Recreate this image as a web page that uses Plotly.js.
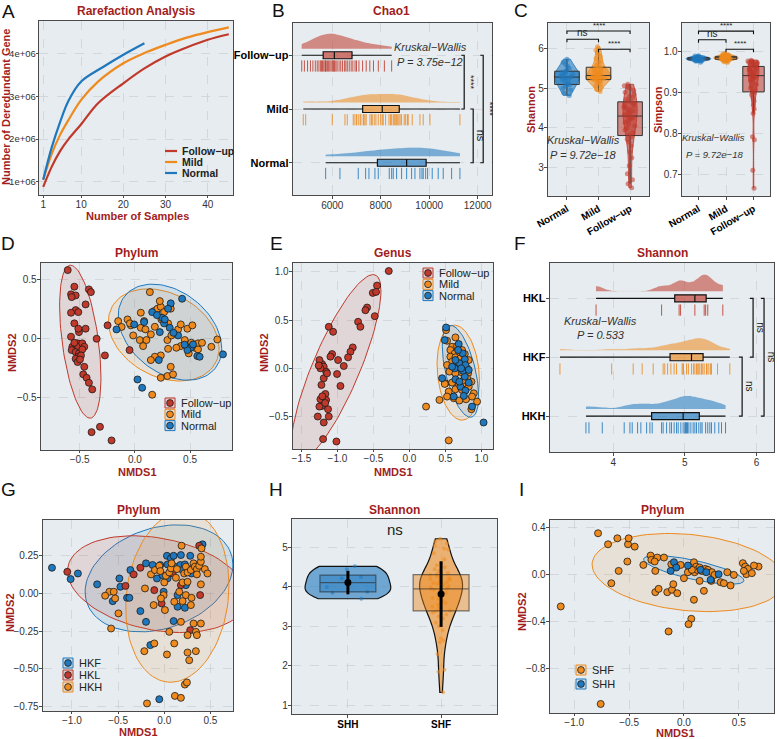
<!DOCTYPE html>
<html>
<head>
<meta charset="utf-8">
<script src="https://cdn.plot.ly/plotly-3.0.1.min.js"></script>
<style>body{margin:0;background:#fff}#plot{width:777px;height:739px}</style>
</head>
<body>
<div id="plot"></div>
<script>
// ---- colours
var RED = '#C0392B', ORG = '#EE8A1E', BLU = '#1F78BE';
var TITLE_RED = '#A11D21';

// ---- A: rarefaction
var rareFuX = [1, 3, 5, 7, 10, 14, 20, 25, 30, 35, 40, 45];
var rareFuY = [0.88e6, 1.35e6, 1.72e6, 2.0e6, 2.35e6, 2.84e6, 3.31e6, 3.66e6, 3.94e6, 4.15e6, 4.33e6, 4.46e6];
var rareMildX = [1, 3, 5, 7, 10, 14, 20, 25, 30, 35, 40, 45];
var rareMildY = [1.05e6, 1.65e6, 2.1e6, 2.45e6, 2.92e6, 3.35e6, 3.78e6, 4.02e6, 4.21e6, 4.38e6, 4.51e6, 4.62e6];
var rareNormX = [1, 3, 5, 7, 10, 15, 20, 25];
var rareNormY = [1.05e6, 1.8e6, 2.4e6, 2.9e6, 3.35e6, 3.68e6, 3.98e6, 4.25e6];
var rareTickVals = [1e6, 2e6, 3e6, 4e6];
var rareTickText = ['1e+06', '2e+06', '3e+06', '4e+06'];

// ---- B: Chao1
var chaoFu = [4740, 4850, 4980, 5100, 5200, 5300, 5380, 5450, 5520, 5560, 5600, 5650, 5700, 5720, 5750, 5800, 5850, 5900, 5950, 6000, 6040, 6070, 6100, 6150, 6200, 6280, 6350, 6420, 6500, 6560, 6620, 6700, 6780, 6850, 6940, 7000, 7100, 7250, 7400, 7550, 7700, 7900, 8150, 8450];
var chaoMild = [4804, 4903, 6000, 6524, 6619, 6866, 6936, 7000, 7072, 7150, 7183, 7278, 7300, 7348, 7400, 7555, 7625, 7650, 7732, 7800, 7897, 8000, 8062, 8103, 8200, 8338, 8400, 8449, 8516, 8557, 8600, 8654, 8700, 8751, 8800, 8860, 8969, 9027, 9100, 9134, 9300, 9617, 9753, 10029, 11266];
var chaoNorm = [5727, 6317, 7072, 7377, 7513, 7761, 7897, 8351, 8450, 8516, 8654, 8860, 9068, 9274, 9411, 9617, 9700, 9753, 9852, 9934, 10124, 10371, 10578, 10924, 11266];
var ridgeCats = ['Normal', 'Mild', 'Follow\u2212up'];

// ---- C: Shannon / Simpson
var cCats = ['Normal', 'Mild', 'Follow\u2212up'];
var shanNorm = [4.82, 4.88, 4.95, 5.0, 5.05, 5.08, 5.1, 5.14, 5.18, 5.22, 5.25, 5.27, 5.28, 5.3, 5.32, 5.35, 5.38, 5.4, 5.42, 5.45, 5.5, 5.55, 5.6, 5.65, 5.73];
var shanMild = [4.92, 4.98, 5.02, 5.06, 5.1, 5.12, 5.15, 5.17, 5.19, 5.2, 5.21, 5.22, 5.23, 5.24, 5.25, 5.26, 5.27, 5.28, 5.29, 5.3, 5.3, 5.31, 5.32, 5.33, 5.35, 5.36, 5.38, 5.4, 5.42, 5.44, 5.46, 5.48, 5.5, 5.52, 5.55, 5.58, 5.62, 5.66, 5.7, 5.75, 5.8, 5.85, 5.9, 5.96, 6.04];
var shanFu = [2.5, 2.6, 2.7, 2.85, 3.05, 3.25, 3.4, 3.55, 3.65, 3.72, 3.78, 3.82, 3.88, 3.95, 4.0, 4.05, 4.1, 4.14, 4.18, 4.22, 4.25, 4.27, 4.3, 4.33, 4.36, 4.4, 4.43, 4.47, 4.5, 4.53, 4.56, 4.6, 4.62, 4.65, 4.68, 4.72, 4.76, 4.8, 4.85, 4.9, 4.95, 5.0, 5.03, 5.06, 5.1];
var simpNorm = [0.975, 0.977, 0.978, 0.979, 0.98, 0.98, 0.981, 0.981, 0.982, 0.982, 0.983, 0.983, 0.983, 0.984, 0.984, 0.985, 0.985, 0.986, 0.986, 0.987, 0.987, 0.988, 0.989, 0.99, 0.991];
var simpMild = [0.974, 0.976, 0.977, 0.978, 0.979, 0.98, 0.98, 0.981, 0.981, 0.982, 0.982, 0.982, 0.983, 0.983, 0.983, 0.984, 0.984, 0.984, 0.985, 0.985, 0.985, 0.985, 0.986, 0.986, 0.986, 0.986, 0.987, 0.987, 0.987, 0.988, 0.988, 0.988, 0.989, 0.989, 0.99, 0.99, 0.991, 0.991, 0.992, 0.992, 0.993, 0.993, 0.994, 0.995, 0.996];
var simpFu = [0.666, 0.71, 0.785, 0.792, 0.85, 0.86, 0.87, 0.88, 0.888, 0.895, 0.9, 0.903, 0.908, 0.912, 0.916, 0.92, 0.925, 0.93, 0.933, 0.936, 0.938, 0.94, 0.942, 0.944, 0.946, 0.948, 0.95, 0.952, 0.954, 0.956, 0.958, 0.96, 0.962, 0.964, 0.966, 0.968, 0.97, 0.971, 0.972, 0.974, 0.975, 0.976, 0.977, 0.978, 0.98];

// ---- D: NMDS phylum (Follow-up / Mild / Normal)
var dFuX = [-0.608, -0.548, -0.578, -0.536, -0.572, -0.416, -0.398, -0.536, -0.512, -0.578, -0.446, -0.548, -0.506, -0.446, -0.578, -0.566, -0.542, -0.518, -0.512, -0.476, -0.458, -0.572, -0.536, -0.506, -0.476, -0.512, -0.536, -0.488, -0.518, -0.458, -0.467, -0.437, -0.416, -0.386, -0.346, -0.247, -0.271, -0.048, -0.392, -0.316, -0.211, -0.512, -0.548, -0.497];
var dFuY = [0.58, 0.44, 0.375, 0.366, 0.352, 0.417, 0.394, 0.242, 0.225, 0.22, 0.29, 0.13, 0.056, 0.085, 0.017, -0.068, -0.039, -0.039, -0.068, -0.039, -0.068, -0.096, -0.113, -0.124, -0.09, -0.152, -0.169, -0.141, -0.197, -0.237, -0.301, -0.33, -0.372, -0.428, 0.0, 0.113, -0.141, -0.096, -0.789, -0.744, -0.859, 0.085, -0.034, -0.175];
var dMildX = [-0.151, -0.066, -0.036, 0.054, 0.084, 0.175, 0.205, 0.235, 0.265, 0.325, 0.145, 0.045, 0.105, 0.075, 0.226, 0.136, -0.015, -0.045, 0.054, 0.096, 0.181, 0.241, 0.301, 0.295, 0.331, 0.392, 0.452, 0.476, 0.512, 0.542, 0.572, 0.608, 0.693, 0.747, 0.416, 0.301, 0.235, 0.181, 0.145, 0.325, 0.235, 0.295, 0.346, 0.157, 0.488, 0.376, 0.416, 0.521, -0.12, 0.572];
var dMildY = [0.149, 0.163, 0.113, 0.22, 0.149, 0.234, 0.254, 0.27, 0.225, 0.254, 0.037, -0.011, -0.011, -0.062, 0.318, 0.394, 0.028, 0.13, 0.093, 0.079, 0.101, 0.163, 0.13, -0.011, 0.028, 0.079, -0.011, 0.085, -0.034, -0.076, -0.039, -0.034, -0.068, -0.006, -0.062, -0.085, -0.141, -0.152, -0.18, -0.237, -0.33, -0.315, -0.301, -0.473, -0.124, -0.076, 0.121, 0.113, 0.1, -0.09];
var dNormX = [-0.166, -0.006, 0.084, 0.157, 0.247, 0.265, 0.325, 0.301, 0.316, 0.226, 0.392, 0.428, 0.506, 0.527, 0.566, 0.587, 0.798, 0.217, 0.024, 0.066, 0.476, 0.271, 0.35, 0.2, 0.45];
var dNormY = [0.079, 0.121, 0.141, 0.225, 0.177, 0.13, 0.299, 0.254, 0.093, 0.056, 0.028, 0.338, -0.076, -0.048, -0.146, -0.152, -0.132, -0.18, -0.344, -0.414, -0.096, 0.163, 0.05, 0.2, -0.05];

// ---- E: NMDS genus
var eFuX = [-0.287, -0.449, -0.509, -0.463, -0.481, -0.588, -0.611, -0.713, -0.681, -0.787, -0.819, -0.852, -0.912, -1.005, -0.991, -1.074, -1.12, -1.06, -1.097, -1.213, -1.19, -1.25, -1.157, -1.19, -1.236, -1.144, -1.222, -1.167, -1.236, -1.157, -1.213, -1.25, -1.13, -1.273, -1.19, -1.12, -0.958, -1.199, -1.014, -1.26, -1.21, -1.17];
var eFuY = [1.01, 0.859, 0.783, 0.793, 0.541, 0.631, 0.603, 0.483, 0.431, 0.217, 0.172, 0.114, 0.024, -0.059, 0.086, 0.148, 0.431, 0.379, 0.121, 0.045, 0.017, 0.086, -0.034, -0.103, 0.0, -0.052, -0.172, -0.266, -0.321, -0.328, -0.39, -0.397, -0.424, -0.5, -0.562, -0.5, -0.183, -0.734, -0.759, 0.03, -0.29, -0.36];
var eMildX = [0.509, 0.639, 0.523, 0.593, 0.662, 0.731, 0.569, 0.63, 0.694, 0.769, 0.569, 0.639, 0.708, 0.593, 0.662, 0.755, 0.824, 0.523, 0.616, 0.722, 0.801, 0.556, 0.639, 0.731, 0.815, 0.5, 0.593, 0.685, 0.778, 0.861, 0.546, 0.639, 0.731, 0.824, 0.894, 0.523, 0.616, 0.694, 0.787, 0.87, 0.94, 0.861, 0.491, 0.231, 0.417, 0.546, 0.801, 0.755];
var eMildY = [0.397, 0.321, 0.286, 0.224, 0.231, 0.19, 0.19, 0.155, 0.148, 0.148, 0.121, 0.114, 0.103, 0.069, 0.052, 0.069, 0.086, 0.034, 0.01, 0.017, 0.0, -0.034, -0.052, -0.045, -0.052, -0.155, -0.148, -0.172, -0.155, -0.138, -0.241, -0.217, -0.224, -0.19, -0.259, -0.293, -0.31, -0.334, -0.321, -0.293, -0.345, -0.424, -0.162, -0.397, -0.328, -0.748, -0.103, -0.121];
var eNormX = [0.509, 0.491, 0.685, 0.741, 0.769, 0.694, 0.778, 0.63, 0.769, 0.741, 0.454, 0.639, 0.824, 0.708, 0.778, 0.755, 0.87, 1.03, 0.639, 0.593, 0.694, 0.616, 0.824, 0.676, 0.72];
var eNormY = [0.424, 0.293, 0.252, 0.155, 0.093, 0.052, 0.034, 0.0, -0.086, -0.024, -0.103, -0.114, -0.148, -0.19, -0.231, -0.286, -0.397, -0.562, 0.086, 0.017, -0.138, -0.293, -0.017, 0.19, 0.0];

// ---- F: Shannon HK cohort
var fCats = ['HKH', 'HKF', 'HKL'];
var fHKL = [3.76, 4.675, 4.92, 4.94, 5.14, 5.27, 5.29, 5.32, 5.53];
var fHKF = [3.256, 3.978, 4.279, 4.404, 4.558, 4.697, 4.72, 4.759, 4.805, 4.85, 4.884, 4.962, 4.976, 4.98, 5.024, 5.05, 5.093, 5.12, 5.14, 5.163, 5.18, 5.195, 5.21, 5.233, 5.25, 5.27, 5.302, 5.31, 5.335, 5.36, 5.372, 5.456, 5.628];
var fHKH = [3.619, 3.661, 3.847, 4.153, 4.233, 4.265, 4.34, 4.386, 4.466, 4.512, 4.544, 4.675, 4.697, 4.745, 4.79, 4.814, 4.851, 4.884, 4.907, 4.944, 4.976, 5.0, 5.01, 5.024, 5.037, 5.056, 5.084, 5.116, 5.14, 5.163, 5.195, 5.223, 5.241, 5.29, 5.32, 5.349, 5.372, 5.418, 5.474, 5.512, 5.568];

// ---- G: NMDS phylum HK
var gHKFX = [-1.216, -1.014, -0.935, -0.727, -0.486, -0.475, -0.558, -0.403, -0.378, -0.367, -0.259, -0.198, -0.198, -0.126, -0.079, -0.043, -0.007, 0.029, 0.036, 0.072, 0.101, 0.115, -0.018, 0.173, 0.18, 0.223, 0.234, 0.281, 0.295, 0.101, -0.151, -0.054, 0.144, 0.223, 0.414, 0.198, 0.144, 0.036, 0.27];
var gHKFY = [0.17, 0.095, 0.132, 0.06, 0.099, 0.044, -0.051, -0.029, -0.029, 0.155, -0.117, 0.199, -0.188, 0.188, 0.099, 0.188, 0.011, 0.249, 0.192, 0.232, 0.249, 0.177, 0.121, 0.188, 0.254, 0.192, 0.055, 0.249, 0.132, -0.183, -0.342, -0.7, -0.088, -0.095, 0.325, 0.155, -0.011, 0.1, 0.16];
var gHKLX = [-1.05, -0.42, -0.331, -0.259, -0.108, -0.029, 0.09, 0.18, 0.378, 0.388, 0.281];
var gHKLY = [0.143, 0.05, 0.126, 0.17, 0.022, -0.066, 0.132, 0.055, 0.316, -0.011, -0.243];
var gHKHX = [-0.594, -0.547, -0.64, -0.496, -0.576, -0.209, -0.144, -0.101, -0.054, -0.043, 0.0, 0.018, 0.054, 0.072, 0.079, 0.137, 0.216, 0.234, 0.252, 0.288, 0.317, 0.331, 0.353, 0.378, 0.396, 0.396, 0.403, 0.353, 0.396, 0.439, 0.468, 0.198, 0.234, 0.126, -0.007, -0.115, 0.007, -0.036, 0.108, 0.198, 0.288, 0.317, 0.342, 0.353, 0.396, 0.295, -0.216, -0.108, 0.054, 0.108, 0.252, 0.27, 0.342, 0.029, 0.223, 0.245, 0.115, 0.18, -0.187, 0.187, -0.532, 0.252, 0.162, 0.252, 0.18];
var gHKHY = [0.011, 0.011, -0.015, -0.132, -0.232, 0.033, 0.126, 0.155, 0.183, 0.148, 0.073, 0.117, 0.139, 0.166, 0.199, 0.161, 0.132, 0.177, 0.139, 0.155, 0.199, 0.177, 0.161, 0.183, 0.21, 0.243, 0.298, 0.126, 0.06, 0.161, 0.132, 0.073, -0.011, 0.104, -0.011, -0.077, -0.11, -0.033, -0.055, -0.051, -0.077, -0.199, -0.254, -0.276, -0.199, -0.029, -0.382, -0.331, -0.254, -0.331, -0.391, -0.442, -0.382, -0.404, -0.603, -0.589, -0.678, -0.691, -0.728, 0.316, -0.033, 0.077, 0.011, -0.276, -0.188];

// ---- H: Shannon SH cohort
var hCats = ['SHH', 'SHF'];
var hSHH = [3.70, 3.85, 3.88, 4.0, 4.22, 4.25, 4.45, 4.52];
var hSHF = [1.33, 1.85, 1.9, 2.3, 2.6, 2.65, 2.7, 2.9, 3.0, 3.1, 3.2, 3.25, 3.3, 3.35, 3.38, 3.4, 3.45, 3.5, 3.55, 3.58, 3.6, 3.65, 3.7, 3.72, 3.75, 3.8, 3.85, 3.9, 3.93, 3.95, 3.98, 4.0, 4.02, 4.05, 4.08, 4.1, 4.12, 4.15, 4.18, 4.2, 4.22, 4.25, 4.28, 4.3, 4.32, 4.35, 4.4, 4.45, 4.5, 4.55, 4.6, 4.7, 4.85, 4.95, 4.97, 5.05, 5.1, 5.15, 5.22];

// ---- I: NMDS phylum SH
var iSHFX = [-0.783, -0.607, -0.692, -0.51, -0.504, -0.449, -0.516, -0.595, -0.662, -0.37, -0.304, -0.297, -0.243, -0.182, -0.267, -0.261, -0.261, -0.231, -0.152, -0.109, -0.097, -0.061, -0.115, -0.03, 0.0, 0.036, 0.091, 0.112, 0.097, 0.121, 0.143, 0.164, 0.194, 0.219, 0.255, 0.279, 0.143, 0.182, 0.073, 0.395, 0.334, 0.364, 0.425, 0.455, 0.537, 0.559, 0.583, 0.568, 0.546, 0.619, 0.68, 0.638, 0.067, 0.042, 0.091, -0.14, -1.123, -0.759, 0.249];
var iSHFY = [0.349, 0.306, 0.255, 0.255, 0.306, 0.235, 0.108, 0.028, -0.077, 0.079, 0.159, 0.122, 0.142, 0.142, 0.108, 0.028, -0.153, -0.125, -0.153, -0.133, -0.085, -0.162, 0.085, 0.079, -0.034, 0.017, 0.102, 0.065, 0.017, 0.037, 0.057, 0.028, 0.045, 0.037, 0.017, -0.006, -0.057, -0.142, 0.037, 0.017, -0.068, -0.077, -0.096, -0.006, 0.094, 0.065, 0.045, 0.0, 0.028, 0.009, 0.065, 0.074, -0.38, -0.426, -0.218, -0.488, -0.275, -1.106, -0.057];
var iSHHX = [-0.091, -0.07, 0.036, 0.152, 0.203, 0.243, 0.316, -0.121];
var iSHHY = [0.102, 0.057, 0.074, 0.037, 0.017, -0.048, 0.0, 0.028];

// ================= helpers
var W = 777, H = 739;
function dx(a, b) { return [a / W, b / W]; }
function dy(a, b) { return [1 - b / H, 1 - a / H]; }
function px2x(p) { return p / W; }
function px2y(p) { return 1 - p / H; }
function rgba(hex, a) {
  var n = parseInt(hex.slice(1), 16);
  return 'rgba(' + (n >> 16) + ',' + ((n >> 8) & 255) + ',' + (n & 255) + ',' + a + ')';
}
function mean(a) { return a.reduce(function (s, v) { return s + v; }, 0) / a.length; }
function sd(a) {
  var m = mean(a);
  return Math.sqrt(a.reduce(function (s, v) { return s + (v - m) * (v - m); }, 0) / (a.length - 1));
}
function quant(a, p) {
  var s = a.slice().sort(function (u, v) { return u - v; });
  var h = (s.length - 1) * p, lo = Math.floor(h);
  return s[lo] + (h - lo) * ((s[lo + 1] === undefined ? s[lo] : s[lo + 1]) - s[lo]);
}

// robust t covariance (like MASS::cov.trob) + ggplot stat_ellipse, level 0.95
function ellipse(xs, ys) {
  var n = xs.length, nu = 5, i, it;
  var lx = mean(xs), ly = mean(ys);
  var w = xs.map(function () { return 1; });
  var cx, cy;
  for (it = 0; it < 25; it++) {
    var w0 = w.slice(), sw = 0, a = 0, b = 0, c = 0;
    cx = xs.map(function (v) { return v - lx; });
    cy = ys.map(function (v) { return v - ly; });
    for (i = 0; i < n; i++) sw += w[i];
    for (i = 0; i < n; i++) {
      a += w[i] / sw * cx[i] * cx[i];
      b += w[i] / sw * cx[i] * cy[i];
      c += w[i] / sw * cy[i] * cy[i];
    }
    var det = a * c - b * b;
    for (i = 0; i < n; i++) {
      var q = (c * cx[i] * cx[i] - 2 * b * cx[i] * cy[i] + a * cy[i] * cy[i]) / det;
      w[i] = (nu + 2) / (nu + q);
    }
    var s2 = 0, mx = 0, my = 0;
    for (i = 0; i < n; i++) { s2 += w[i]; mx += w[i] * xs[i]; my += w[i] * ys[i]; }
    lx = mx / s2; ly = my / s2;
    var done = true;
    for (i = 0; i < n; i++) if (Math.abs(w[i] - w0[i]) >= 0.01) done = false;
    if (done) break;
  }
  var sxx = 0, sxy = 0, syy = 0;
  for (i = 0; i < n; i++) {
    sxx += w[i] * cx[i] * cx[i]; sxy += w[i] * cx[i] * cy[i]; syy += w[i] * cy[i] * cy[i];
  }
  sxx /= n; sxy /= n; syy /= n;
  var d2 = n - 1;
  var fq = (d2 / 2) * (Math.pow(0.05, -2 / d2) - 1);
  var r = Math.sqrt(2 * fq);
  var u11 = Math.sqrt(sxx), u12 = sxy / u11, u22 = Math.sqrt(syy - u12 * u12);
  var ex = [], ey = [];
  for (i = 0; i <= 100; i++) {
    var t = 2 * Math.PI * i / 100;
    ex.push(lx + r * Math.cos(t) * u11);
    ey.push(ly + r * (Math.cos(t) * u12 + Math.sin(t) * u22));
  }
  return { x: ex, y: ey };
}

var traces = [];
var shapes = [];
var annotations = [];

// ================= A
[[rareFuX, rareFuY, RED], [rareMildX, rareMildY, ORG], [rareNormX, rareNormY, BLU]].forEach(function (g) {
  traces.push({ type: 'scatter', mode: 'lines', x: g[0], y: g[1], line: { color: g[2], width: 2.2, shape: 'spline', smoothing: 1 }, xaxis: 'x', yaxis: 'y', showlegend: false });
});

// ================= B and F ridges
function ridge(xa, ya, vals, pos, col, vw, bw, kbw) {
  var v = { type: 'violin', x: vals, y0: pos + 0.12, orientation: 'h', side: 'positive', width: vw, scalemode: 'width', spanmode: 'hard', points: false, box: { visible: false }, meanline: { visible: false }, line: { width: 0.1, color: rgba(col, 0.55) }, fillcolor: rgba(col, 0.55), xaxis: xa, yaxis: ya, showlegend: false, hoverinfo: 'skip' };
  if (kbw) v.bandwidth = kbw;
  traces.push(v);
  traces.push({ type: 'box', x: vals, y0: pos, orientation: 'h', width: bw, boxpoints: false, whiskerwidth: 0, fillcolor: rgba(col, 0.65), line: { color: '#111', width: 1.2 }, xaxis: xa, yaxis: ya, showlegend: false, hoverinfo: 'skip' });
  traces.push({ type: 'scatter', mode: 'markers', x: vals, y: vals.map(function () { return pos - 0.2; }), marker: { symbol: 'line-ns', size: 8, line: { width: 1, color: rgba(col, 0.85) } }, xaxis: xa, yaxis: ya, showlegend: false, hoverinfo: 'skip' });
}
ridge('x2', 'y2', chaoNorm, 0, BLU, 0.32, 0.13);
ridge('x2', 'y2', chaoMild, 1, ORG, 0.32, 0.13);
ridge('x2', 'y2', chaoFu, 2, RED, 0.56, 0.13);
ridge('x7', 'y7', fHKH, 0, BLU, 0.44, 0.12, 0.11);
ridge('x7', 'y7', fHKF, 1, ORG, 0.4, 0.12, 0.12);
ridge('x7', 'y7', fHKL, 2, RED, 0.56, 0.12, 0.1);

// ================= C
function violbox(xa, ya, cat, vals, col, vw) {
  traces.push({ type: 'violin', x0: cat, y: vals, width: vw, scalemode: 'width', spanmode: 'hard', points: false, box: { visible: false }, meanline: { visible: false }, line: { width: 0.8, color: col }, fillcolor: rgba(col, 0.6), xaxis: xa, yaxis: ya, showlegend: false, hoverinfo: 'skip' });
  traces.push({ type: 'box', x0: cat, y: vals, width: 0.78, boxpoints: 'all', jitter: 0.55, pointpos: 0, whiskerwidth: 0, fillcolor: rgba(col, 0.55), line: { color: '#333', width: 1 }, marker: { color: rgba(col, 0.55), size: 5 }, xaxis: xa, yaxis: ya, showlegend: false, hoverinfo: 'skip' });
}
violbox('x3', 'y3', cCats[0], shanNorm, BLU, 0.8);
violbox('x3', 'y3', cCats[1], shanMild, ORG, 0.8);
violbox('x3', 'y3', cCats[2], shanFu, RED, 0.45);
violbox('x4', 'y4', cCats[0], simpNorm, BLU, 0.9);
violbox('x4', 'y4', cCats[1], simpMild, ORG, 0.9);
violbox('x4', 'y4', cCats[2], simpFu, RED, 0.4);

// ================= NMDS panels
function nmds(xa, ya, groups) {
  groups.forEach(function (g) {
    var e = ellipse(g[0], g[1]);
    traces.push({ type: 'scatter', mode: 'lines', x: e.x, y: e.y, fill: 'toself', fillcolor: rgba(g[3], 0.12), line: { color: g[3], width: 1 }, xaxis: xa, yaxis: ya, showlegend: false, hoverinfo: 'skip' });
  });
  groups.forEach(function (g) {
    traces.push({ type: 'scatter', mode: 'markers', x: g[0], y: g[1], name: g[2], showlegend: false, marker: { color: g[3], size: 7, line: { color: '#1a1a1a', width: 0.8 } }, xaxis: xa, yaxis: ya });
  });
}
nmds('x5', 'y5', [[dFuX, dFuY, 'Follow\u2212up', RED], [dMildX, dMildY, 'Mild', ORG], [dNormX, dNormY, 'Normal', BLU]]);
nmds('x6', 'y6', [[eFuX, eFuY, 'Follow\u2212up', RED], [eMildX, eMildY, 'Mild', ORG], [eNormX, eNormY, 'Normal', BLU]]);
nmds('x8', 'y8', [[gHKFX, gHKFY, 'HKF', BLU], [gHKLX, gHKLY, 'HKL', RED], [gHKHX, gHKHY, 'HKH', ORG]]);
nmds('x10', 'y10', [[iSHFX, iSHFY, 'SHF', ORG], [iSHHX, iSHHY, 'SHH', BLU]]);

// ================= H
[[hCats[0], hSHH, BLU, 0.92], [hCats[1], hSHF, ORG, 0.46]].forEach(function (g) {
  traces.push({ type: 'violin', x0: g[0], y: g[1], width: g[3], scalemode: 'width', spanmode: 'hard', points: 'all', jitter: 0.6, pointpos: 0, marker: { color: rgba(g[2], 0.55), size: 4 }, box: { visible: false }, meanline: { visible: false }, line: { width: 1.2, color: '#111' }, fillcolor: rgba(g[2], 0.6), xaxis: 'x9', yaxis: 'y9', showlegend: false, hoverinfo: 'skip' });
  var q1 = quant(g[1], 0.25), q3 = quant(g[1], 0.75);
  traces.push({ type: 'box', x: [g[0]], q1: [q1], median: [quant(g[1], 0.5)], q3: [q3], lowerfence: [q1], upperfence: [q3], width: 0.6, fillcolor: rgba(g[2], 0.45), line: { color: 'rgba(40,40,40,0.6)', width: 1.2 }, xaxis: 'x9', yaxis: 'y9', showlegend: false, hoverinfo: 'skip' });
  traces.push({ type: 'scatter', mode: 'markers', x: [g[0]], y: [mean(g[1])], error_y: { type: 'data', array: [sd(g[1])], thickness: 3, width: 0, color: '#000' }, marker: { color: '#000', size: 7 }, xaxis: 'x9', yaxis: 'y9', showlegend: false, hoverinfo: 'skip' });
});

// ================= axes
var tickF = { size: 10, color: '#333', family: 'Liberation Sans, Arial, sans-serif' };
var catF = { size: 11, color: '#000', family: 'Liberation Sans, Arial, sans-serif', weight: 'bold' };
var catRotF = { size: 10, color: '#000', family: 'Liberation Sans, Arial, sans-serif', weight: 'bold' };
function ax(domain, anchor, extra) {
  var o = {
    domain: domain, anchor: anchor, showline: true, mirror: true, linecolor: '#4a4a4a', linewidth: 1.3,
    showgrid: true, gridcolor: '#c9cfd3', griddash: 'dash', gridwidth: 0.7, zeroline: false,
    ticks: 'outside', ticklen: 3, tickcolor: '#4a4a4a', tickfont: tickF, automargin: false,
    ticklabelstandoff: -2
  };
  for (var k in extra) o[k] = extra[k];
  return o;
}

var layout = {
  width: W, height: H, margin: { l: 0, r: 0, t: 0, b: 0 },
  paper_bgcolor: '#fff', plot_bgcolor: '#E6ECEF', showlegend: false,
  font: { family: 'Liberation Sans, Arial, sans-serif', color: '#222' },
  hovermode: false, violinmode: 'overlay', boxmode: 'overlay',
  // A
  xaxis: ax(dx(39, 233), 'y', { range: [0, 46], tickvals: [1, 10, 20, 30, 40], ticklen: 2 }),
  yaxis: ax(dy(21, 195), 'x', { range: [0.69e6, 4.77e6], tickvals: rareTickVals, ticktext: rareTickText, tickfont: { size: 9.5, color: '#333' }, ticklen: 2 }),
  // B
  xaxis2: ax(dx(293, 492), 'y2', { range: [4380, 12590], dtick: 2000, tickformat: 'd' }),
  yaxis2: ax(dy(23, 195), 'x2', { type: 'linear', range: [-0.6, 2.6], tickvals: [0, 1, 2], ticktext: ridgeCats, tickfont: catF }),
  // C
  xaxis3: ax(dx(548, 649), 'y3', { type: 'category', range: [-0.6, 2.6], tickangle: -30, tickfont: catRotF, ticklabelstandoff: -1 }),
  yaxis3: ax(dy(23, 196), 'x3', { range: [2.29, 6.64], dtick: 1 }),
  xaxis4: ax(dx(682, 770), 'y4', { type: 'category', range: [-0.6, 2.6], tickangle: -30, tickfont: catRotF, ticklabelstandoff: -1 }),
  yaxis4: ax(dy(23, 196), 'x4', { range: [0.647, 1.071], dtick: 0.1, tickformat: '.1f' }),
  // D
  xaxis5: ax(dx(41, 232), 'y5', { range: [-0.85, 0.88], dtick: 0.5, tickformat: '.1f', ticklen: 2 }),
  yaxis5: ax(dy(263, 450), 'x5', { range: [-0.94, 0.64], dtick: 0.5, tickformat: '.1f' }),
  // E
  xaxis6: ax(dx(293, 493), 'y6', { range: [-1.617, 1.161], dtick: 0.5, tickformat: '.1f', ticklen: 2 }),
  yaxis6: ax(dy(263, 449), 'x6', { range: [-0.837, 1.093], dtick: 0.5, tickformat: '.1f' }),
  // F
  xaxis7: ax(dx(550, 774), 'y7', { range: [3.117, 6.245], dtick: 1 }),
  yaxis7: ax(dy(263, 452), 'x7', { type: 'linear', range: [-0.61, 2.6], tickvals: [0, 1, 2], ticktext: fCats, tickfont: catF }),
  // G
  xaxis8: ax(dx(43, 233), 'y8', { range: [-1.313, 0.744], dtick: 0.5, tickformat: '.1f', ticklen: 2 }),
  yaxis8: ax(dy(520, 711), 'x8', { range: [-0.778, 0.486], dtick: 0.25, tickformat: '.2f' }),
  // H
  xaxis9: ax(dx(292, 497), 'y9', { type: 'category', range: [-0.6, 1.6], tickfont: catRotF }),
  yaxis9: ax(dy(519, 714), 'x9', { range: [0.78, 5.72], dtick: 1 }),
  // I
  xaxis10: ax(dx(550, 774), 'y10', { range: [-1.221, 0.821], dtick: 0.5, tickformat: '.1f', ticklen: 2 }),
  yaxis10: ax(dy(520, 713), 'x10', { range: [-1.183, 0.462], dtick: 0.4, tickformat: '.1f' }),
  shapes: shapes,
  annotations: annotations
};

// ---- text helpers
function ptext(t, px, py, font, extra) {
  var o = { text: t, x: px2x(px), y: px2y(py), xref: 'paper', yref: 'paper', showarrow: false, xanchor: 'center', yanchor: 'middle', font: font };
  for (var k in extra) o[k] = extra[k];
  annotations.push(o);
}
var titleF = { size: 12, color: TITLE_RED };
var axTitleF = { size: 11, color: TITLE_RED };
[['Rarefaction Analysis', 136, 11], ['Chao1', 392, 11], ['Phylum', 136, 253], ['Genus', 393, 253], ['Shannon', 662, 253], ['Phylum', 138, 510], ['Shannon', 394, 510], ['Phylum', 662, 510]].forEach(function (t) {
  ptext('<b>' + t[0] + '</b>', t[1], t[2], titleF);
});
// axis titles
[['Number of Samples', 137, 216, 0], ['Number of Deredundant Gene', 6, 107, -90],
 ['Shannon', 531, 110, -90], ['Simpson', 658, 110, -90],
 ['NMDS1', 137, 472, 0], ['NMDS2', 12, 353, -90],
 ['NMDS1', 393, 472, 0], ['NMDS2', 264, 353, -90],
 ['NMDS1', 138, 732, 0], ['NMDS2', 10, 613, -90],
 ['NMDS1', 675, 733, 0], ['NMDS2', 522, 612, -90]].forEach(function (t) {
  ptext('<b>' + t[0] + '</b>', t[1], t[2], axTitleF, { textangle: t[3] });
});
[['A', 8, 11], ['B', 278, 10], ['C', 521, 10], ['D', 8, 243], ['E', 276, 243], ['F', 520, 243], ['G', 8, 489], ['H', 276, 489], ['I', 521, 489]].forEach(function (t) {
  ptext(t[0], t[1], t[2], { size: 19, color: '#111' });
});
var kwF = { size: 11, color: '#333' }, kwFs = { size: 9.5, color: '#333' };
ptext('<i>Kruskal\u2212Wallis</i>', 430, 47, kwF);
ptext('<i>P = 3.75e\u221212</i>', 430, 62, kwF);
ptext('<i>Kruskal\u2212Wallis</i>', 583, 140, kwF);
ptext('<i>P = 9.72e\u221218</i>', 583, 155, kwF);
ptext('<i>Kruskal\u2212Wallis</i>', 713, 138, kwFs);
ptext('<i>P = 9.72e\u221218</i>', 714, 154, kwFs);
ptext('<i>Kruskal\u2212Wallis</i>', 600, 321, kwF);
ptext('<i>P = 0.533</i>', 601, 335, kwF);

// ---- legends drawn as keys + labels
function legendKeys(px, py, gap, items, kind, bold, fs) {
  items.forEach(function (it, i) {
    var cy = py + i * gap;
    if (kind === 'line') {
      shapes.push({ type: 'line', xref: 'paper', yref: 'paper', x0: px2x(px), x1: px2x(px + 12), y0: px2y(cy), y1: px2y(cy), line: { color: it[1], width: 2.2 } });
    } else {
      shapes.push({ type: 'rect', xref: 'paper', yref: 'paper', x0: px2x(px), x1: px2x(px + 10), y0: px2y(cy + 5), y1: px2y(cy - 5), line: { color: it[1], width: 1 }, fillcolor: rgba(it[1], 0.15) });
      shapes.push({ type: 'circle', xref: 'paper', yref: 'paper', x0: px2x(px + 1.6), x1: px2x(px + 8.4), y0: px2y(cy + 3.4), y1: px2y(cy - 3.4), fillcolor: it[1], line: { color: '#1a1a1a', width: 0.8 } });
    }
    ptext(bold ? '<b>' + it[0] + '</b>' : it[0], px + (kind === 'line' ? 15 : 14), cy, { size: fs || 11, color: '#222' }, { xanchor: 'left' });
  });
}
legendKeys(165, 151, 11, [['Follow\u2212up', RED], ['Mild', ORG], ['Normal', BLU]], 'line', true, 10.5);
legendKeys(165, 403, 11.3, [['Follow\u2212up', RED], ['Mild', ORG], ['Normal', BLU]], 'pt');
legendKeys(423, 273, 11.3, [['Follow\u2212up', RED], ['Mild', ORG], ['Normal', BLU]], 'pt');
legendKeys(63, 663, 12, [['HKF', BLU], ['HKL', RED], ['HKH', ORG]], 'pt');
legendKeys(576, 670, 14, [['SHF', ORG], ['SHH', BLU]], 'pt');

// ---- significance brackets
function vbracket(xa, ya, xv, y0, y1, tick, label, size) {
  shapes.push({ type: 'path', xref: xa, yref: ya, path: 'M' + (xv - tick) + ',' + y0 + 'L' + xv + ',' + y0 + 'L' + xv + ',' + y1 + 'L' + (xv - tick) + ',' + y1, line: { color: '#111', width: 1.2 } });
  annotations.push({ text: label, xref: xa, yref: ya, x: xv, y: (y0 + y1) / 2, xanchor: 'left', yanchor: 'middle', xshift: 0, textangle: 90, showarrow: false, font: { size: size, color: '#222' } });
}
vbracket('x2', 'y2', 11443, 2, 1, 120, '****', 9);
vbracket('x2', 'y2', 11814, 1, 0, 120, 'ns', 11);
vbracket('x2', 'y2', 12227, 2, 0, 120, '****', 9);
vbracket('x7', 'y7', 5.953, 2, 1, 0.045, 'ns', 10);
vbracket('x7', 'y7', 5.80, 1, 0, 0.045, 'ns', 10);
vbracket('x7', 'y7', 6.106, 2, 0, 0.045, 'ns', 10);

function hbracket(xa, ya, x0, x1, yv, tick, label, size) {
  shapes.push({ type: 'path', xref: xa, yref: ya, path: 'M' + x0 + ',' + (yv - tick) + 'L' + x0 + ',' + yv + 'L' + x1 + ',' + yv + 'L' + x1 + ',' + (yv - tick), line: { color: '#111', width: 1.1 } });
  annotations.push({ text: label, xref: xa, yref: ya, x: (x0 + x1) / 2, y: yv, xanchor: 'center', yanchor: 'bottom', yshift: -1, showarrow: false, font: { size: size, color: '#222' } });
}
hbracket('x3', 'y3', 0, 2, 6.44, 0.075, '****', 8);
hbracket('x3', 'y3', 0, 1, 6.23, 0.075, 'ns', 10);
hbracket('x3', 'y3', 1, 2, 5.98, 0.075, '****', 8);
hbracket('x4', 'y4', 0, 2, 1.051, 0.0075, '****', 8);
hbracket('x4', 'y4', 0, 1, 1.030, 0.0075, 'ns', 10);
hbracket('x4', 'y4', 1, 2, 1.0066, 0.0075, '****', 8);
annotations.push({ text: 'ns', xref: 'x9', yref: 'y9', x: 0.5, y: 5.45, showarrow: false, font: { size: 15, color: '#222' } });

Plotly.newPlot('plot', traces, layout, { displayModeBar: false, staticPlot: true });
</script>
</body>
</html>
